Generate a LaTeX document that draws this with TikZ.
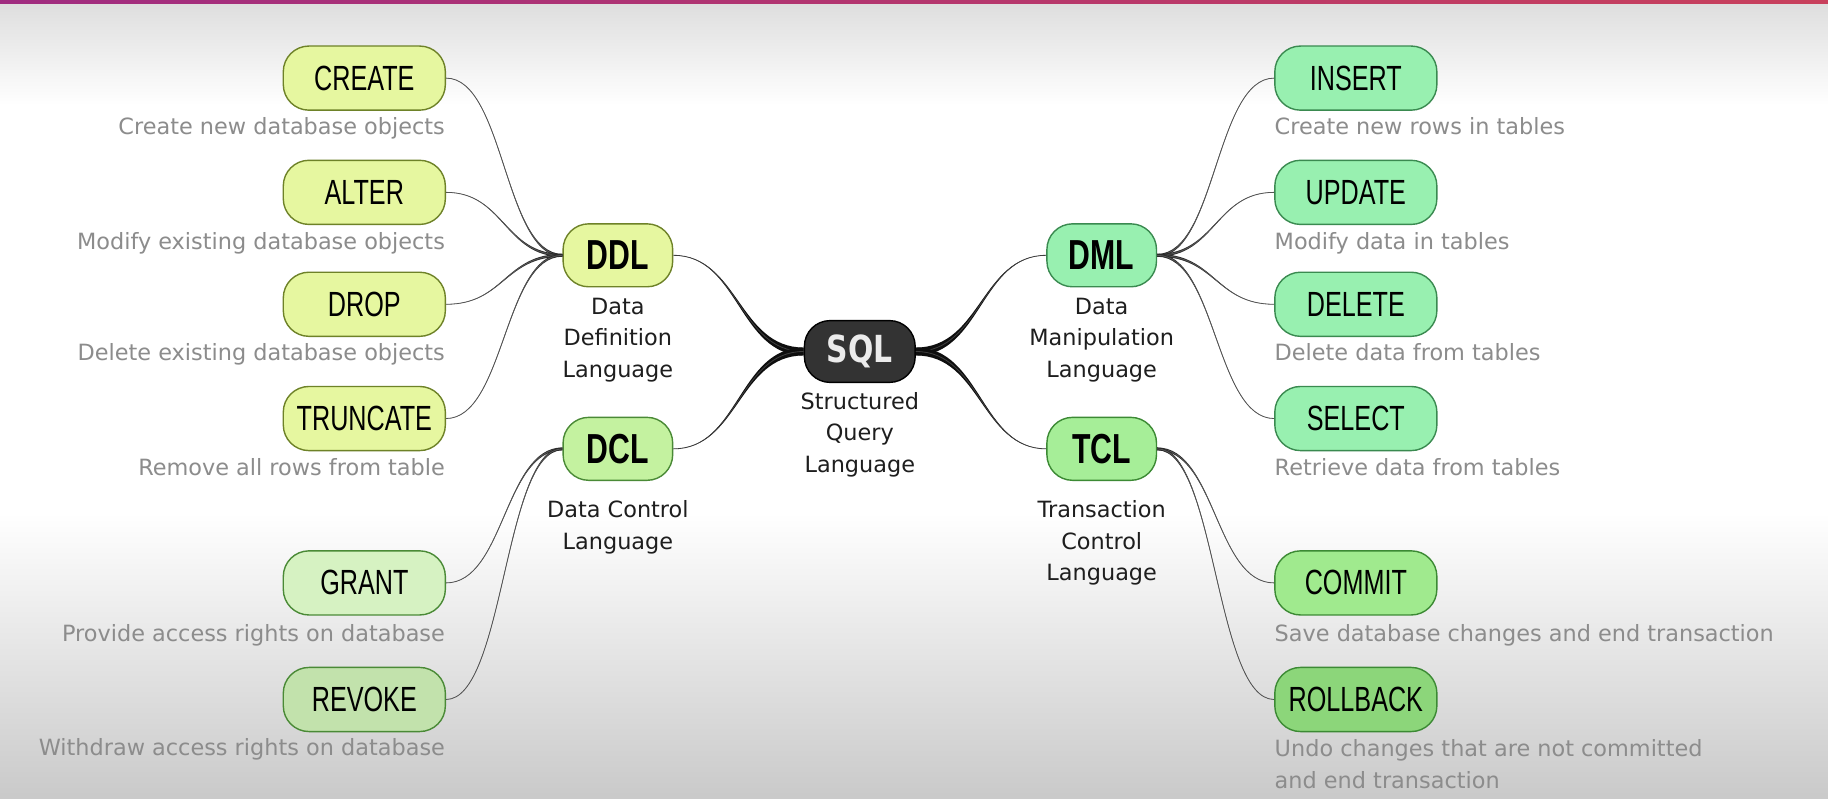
\documentclass[tikz,border=0pt]{standalone}
\usepackage{fontspec}
\setmainfont{DejaVu Sans}
\newfontfamily\narrowfont{Liberation Sans}[FakeStretch=0.72]
\newfontfamily\sqlfont{DejaVu Sans}[FakeStretch=0.8]
\usetikzlibrary{calc}
\definecolor{conncol}{HTML}{2A2A2A}
\definecolor{mainconn}{HTML}{0E0E0E}
\definecolor{desccol}{HTML}{8C8C8C}
\definecolor{subcol}{HTML}{1E1E1E}
\definecolor{ddlfill}{HTML}{E6F7A0}
\definecolor{ddldraw}{HTML}{6E8228}
\definecolor{dclfill}{HTML}{C4F2A0}
\definecolor{grantfill}{HTML}{D6F2C2}
\definecolor{revokefill}{HTML}{C2E2AC}
\definecolor{dcldraw}{HTML}{4A8A36}
\definecolor{dmlfill}{HTML}{98F0B0}
\definecolor{dmldraw}{HTML}{3A8A50}
\definecolor{tclfill}{HTML}{A6EE98}
\definecolor{commitfill}{HTML}{A0EA8E}
\definecolor{rollfill}{HTML}{8CD67A}
\definecolor{tcldraw}{HTML}{3C8A34}
\definecolor{sqlfill}{HTML}{333333}
\definecolor{barleft}{HTML}{A02C80}
\definecolor{barright}{HTML}{C8405C}
\tikzset{
  leaf/.style={rounded corners=11pt, minimum width=69.5pt, minimum height=27.5pt,
    inner sep=0pt, line width=0.6pt, text=black,
    font=\narrowfont\fontsize{15}{15}\selectfont},
  hub/.style={rounded corners=11pt, minimum width=47pt, minimum height=27pt,
    inner sep=0pt, line width=0.6pt, text=black,
    font=\narrowfont\bfseries\fontsize{18}{18}\selectfont},
  sqlbox/.style={rounded corners=11pt, minimum width=47.5pt, minimum height=26.5pt,
    inner sep=0pt, line width=0.6pt, fill=sqlfill, draw=black, text=white!92!black,
    font=\sqlfont\bfseries\fontsize{16}{16}\selectfont},
  desc/.style={inner sep=0pt, text=desccol, font=\fontsize{9.6}{13.5}\selectfont},
  sublbl/.style={inner sep=0pt, anchor=north, align=center, text=subcol,
    font=\fontsize{9.6}{13.5}\selectfont}
}
% #1 thin end, #2 thick end, #3 half width at thick end, #4 colour
\newcommand\conn[4]{%
  \path[fill=#4] let \p1=(#1), \p2=(#2), \n1={(\x2-\x1)*0.5} in
    (\p1) .. controls ({\x1+\n1},\y1) and ({\x2-\n1},{\y2+#3}) .. (\x2,{\y2+#3})
    -- (\x2,{\y2-#3}) .. controls ({\x2-\n1},{\y2-#3}) and ({\x1+\n1},\y1) .. (\p1) -- cycle;
  \draw[#4!80, line width=0.35pt] let \p1=(#1), \p2=(#2), \n1={(\x2-\x1)*0.5} in
    (\p1) .. controls ({\x1+\n1},\y1) and ({\x2-\n1},\y2) .. (\p2);
}
\begin{document}
\begin{tikzpicture}[x=0.5pt,y=-0.5pt]
\useasboundingbox (0,0) rectangle (1568,685);
% background
\fill[white] (0,0) rectangle (1568,685);
\shade[top color=black!13, bottom color=white] (0,3) rectangle (1568,90);
\shade[top color=white, bottom color=black!21] (0,440) rectangle (1568,685);
\shade[left color=barleft, right color=barright] (0,0) rectangle (1568,3);

% hubs
\node[sqlbox] (sql) at (737.5,301.5) {SQL};
\node[hub, fill=ddlfill, draw=ddldraw] (ddl) at (530,219) {DDL};
\node[hub, fill=dclfill, draw=dcldraw] (dcl) at (530,385) {DCL};
\node[hub, fill=dmlfill, draw=dmldraw] (dml) at (945,219) {DML};
\node[hub, fill=tclfill, draw=tcldraw] (tcl) at (945,385) {TCL};

\node[sublbl] (lsql) at (737.5,336) {Structured\\Query\\Language};
\node[sublbl] (lddl) at (530,255) {Data\\Definition\\Language};
\node[sublbl] (ldcl) at (530,429) {Data Control\\Language};
\node[sublbl] (ldml) at (945,255) {Data\\Manipulation\\Language};
\node[sublbl] (ltcl) at (945,429) {Transaction\\Control\\Language};

% left leaves
\node[leaf, fill=ddlfill, draw=ddldraw] (create) at (312.5,67) {CREATE};
\node[leaf, fill=ddlfill, draw=ddldraw] (alter) at (312.5,165) {ALTER};
\node[leaf, fill=ddlfill, draw=ddldraw] (drop) at (312.5,261) {DROP};
\node[leaf, fill=ddlfill, draw=ddldraw] (truncate) at (312.5,359) {TRUNCATE};
\node[leaf, fill=grantfill, draw=dcldraw] (grant) at (312.5,500) {GRANT};
\node[leaf, fill=revokefill, draw=dcldraw] (revoke) at (312.5,600) {REVOKE};

\node[desc, anchor=base east] (dcreate) at (382,115) {Create new database objects};
\node[desc, anchor=base east] (dalter) at (382,214) {Modify existing database objects};
\node[desc, anchor=base east] (ddrop) at (382,309) {Delete existing database objects};
\node[desc, anchor=base east] (dtruncate) at (382,408) {Remove all rows from table};
\node[desc, anchor=base east] (dgrant) at (382,550) {Provide access rights on database};
\node[desc, anchor=base east] (drevoke) at (382,648) {Withdraw access rights on database};

% right leaves
\node[leaf, fill=dmlfill, draw=dmldraw] (insert) at (1163,67) {INSERT};
\node[leaf, fill=dmlfill, draw=dmldraw] (update) at (1163,165) {UPDATE};
\node[leaf, fill=dmlfill, draw=dmldraw] (delete) at (1163,261) {DELETE};
\node[leaf, fill=dmlfill, draw=dmldraw] (select) at (1163,359) {SELECT};
\node[leaf, fill=commitfill, draw=tcldraw] (commit) at (1163,500) {COMMIT};
\node[leaf, fill=rollfill, draw=tcldraw] (rollback) at (1163,600) {ROLLBACK};

\node[desc, anchor=base west] (dinsert) at (1093,115) {Create new rows in tables};
\node[desc, anchor=base west] (dupdate) at (1093,214) {Modify data in tables};
\node[desc, anchor=base west] (ddelete) at (1093,309) {Delete data from tables};
\node[desc, anchor=base west] (dselect) at (1093,408) {Retrieve data from tables};
\node[desc, anchor=base west] (dcommit) at (1093,550) {Save database changes and end transaction};
\node[desc, anchor=north west, align=left] (drollback) at (1093,634) {Undo changes that are not committed\\and end transaction};

% connectors
\conn{ddl.east}{sql.west}{1.7pt}{mainconn}
\conn{dcl.east}{sql.west}{1.7pt}{mainconn}
\conn{dml.west}{sql.east}{1.7pt}{mainconn}
\conn{tcl.west}{sql.east}{1.7pt}{mainconn}

\conn{create.east}{ddl.west}{0.6pt}{conncol}
\conn{alter.east}{ddl.west}{0.6pt}{conncol}
\conn{drop.east}{ddl.west}{0.6pt}{conncol}
\conn{truncate.east}{ddl.west}{0.6pt}{conncol}
\conn{grant.east}{dcl.west}{0.6pt}{conncol}
\conn{revoke.east}{dcl.west}{0.6pt}{conncol}

\conn{insert.west}{dml.east}{0.6pt}{conncol}
\conn{update.west}{dml.east}{0.6pt}{conncol}
\conn{delete.west}{dml.east}{0.6pt}{conncol}
\conn{select.west}{dml.east}{0.6pt}{conncol}
\conn{commit.west}{tcl.east}{0.6pt}{conncol}
\conn{rollback.west}{tcl.east}{0.6pt}{conncol}
\end{tikzpicture}
\end{document}
